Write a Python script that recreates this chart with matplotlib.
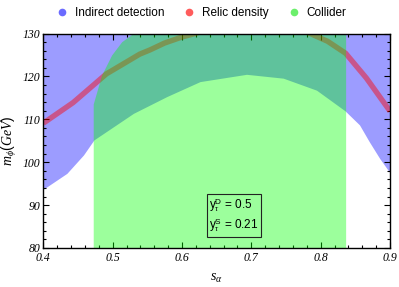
import matplotlib
matplotlib.use("Agg")
import matplotlib.pyplot as plt
from matplotlib.lines import Line2D
from matplotlib.ticker import MultipleLocator

plt.rcParams['mathtext.fontset'] = 'custom'
plt.rcParams['mathtext.rm'] = 'Liberation Sans'
plt.rcParams['mathtext.it'] = 'Liberation Serif:italic'
plt.rcParams['font.family'] = ['Liberation Sans', 'DejaVu Sans']

# indirect detection: allowed above this lower edge
s_ind = [0.400, 0.434, 0.458, 0.473, 0.530, 0.578, 0.626, 0.693, 0.746, 0.794, 0.835, 0.856, 0.870, 0.885, 0.900]
m_ind = [93.7, 97.4, 101.7, 105.2, 111.4, 115.3, 118.8, 120.5, 119.6, 116.8, 112.0, 108.7, 104.8, 100.9, 97.5]

# collider: allowed below this upper edge
s_col = [0.472, 0.477, 0.484, 0.4985, 0.513, 0.529, 0.836]
m_col = [113.6, 116.4, 120.3, 125.0, 128.1, 130.0, 130.0]

# relic density band (two branches leaving the top of the plot)
s_rel1 = [0.400, 0.443, 0.491, 0.539, 0.554, 0.575, 0.600, 0.630]
m_rel1 = [109.1, 113.9, 120.6, 125.2, 126.2, 127.8, 129.2, 130.5]
s_rel2 = [0.770, 0.785, 0.810, 0.836, 0.866, 0.900]
m_rel2 = [131.0, 130.0, 128.2, 125.4, 119.6, 111.9]

m_lo, m_hi = 80, 130

fig = plt.figure(figsize=(3.99, 2.87), dpi=100)
ax = fig.add_axes([0.1085, 0.136, 0.869, 0.747])

ax.fill_between(s_ind, m_ind, m_hi, color=(0, 0, 1), alpha=0.39, lw=0, zorder=1)
ax.plot(s_rel1, m_rel1, color=(1, 0, 0), alpha=0.45, lw=3.9, solid_capstyle='butt', zorder=2)
ax.plot(s_rel2, m_rel2, color=(1, 0, 0), alpha=0.45, lw=3.9, solid_capstyle='butt', zorder=2)
ax.fill_between(s_col, m_lo, m_col, color=(0, 1, 0), alpha=0.39, lw=0, zorder=3)

ax.set_xlim(0.4, 0.9)
ax.set_ylim(m_lo, m_hi)
ax.xaxis.set_major_locator(MultipleLocator(0.1))
ax.xaxis.set_minor_locator(MultipleLocator(0.02))
ax.yaxis.set_major_locator(MultipleLocator(10))
ax.yaxis.set_minor_locator(MultipleLocator(2))
ax.tick_params(which='both', direction='in', top=True, right=True, width=0.8)
ax.tick_params(which='major', length=4)
ax.tick_params(which='minor', length=2)
ax.tick_params(axis='x', pad=3)
ax.tick_params(axis='y', pad=2)
for lab in ax.get_xticklabels() + ax.get_yticklabels():
    lab.set_family('Liberation Serif')
    lab.set_style('italic')
    lab.set_size(8.5)
for sp in ax.spines.values():
    sp.set_linewidth(1.0)
    sp.set_zorder(5)

ax.set_xlabel(r'$s_\alpha$', fontsize=10, labelpad=5)
ax.set_ylabel(r'$m_\phi(GeV)$', fontsize=10, labelpad=3)

ax.text(0.478, 0.063, r'$\mathrm{y}_\tau^\mathrm{D}$ = 0.5' + '\n' + r'$\mathrm{y}_\tau^\mathrm{S}$ = 0.21',
        transform=ax.transAxes, fontsize=8.5, va='bottom', ha='left', linespacing=1.25, zorder=6,
        bbox=dict(boxstyle='square,pad=0.2', fc='none', ec='#222222', lw=0.8))

labels = ['Indirect detection', 'Relic density', 'Collider']
colors = ['#6b6bff', '#ff5c5c', '#6bef6b']
handles = [Line2D([], [], ls='none', marker='o', ms=5.5, mfc=c, mec='none') for c in colors]
fig.legend(handles, labels, loc='center', bbox_to_anchor=(0.505, 0.955), ncol=3, frameon=False,
           fontsize=8.5, handletextpad=0.6, columnspacing=1.6, handlelength=1.0)

fig.savefig('out.png', dpi=100)
